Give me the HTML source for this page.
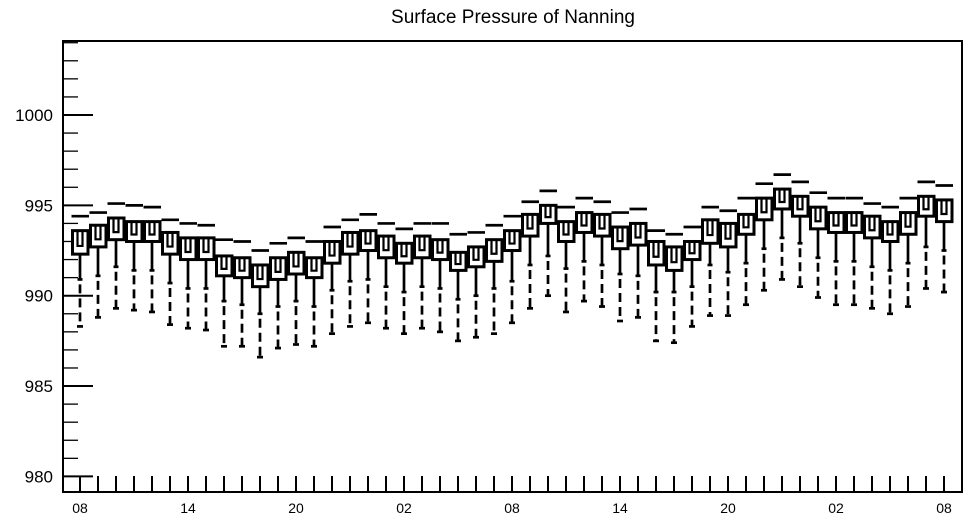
<!DOCTYPE html>
<html><head><meta charset="utf-8"><style>
html,body{margin:0;padding:0;background:#fff}
svg{display:block}
text{font-family:"Liberation Sans",sans-serif;fill:#000}
</style></head><body>
<svg id="chart" width="968" height="520" viewBox="0 0 968 520">
<text x="513" y="23" font-size="19" text-anchor="middle">Surface Pressure of Nanning</text>
<g id="axes"></g>
<g id="marks"></g>
</svg>
<script>
const hourLabels = ["08","14","20","02","08","14","20","02","08"];
const yTicks = [980,985,990,995,1000];
const maxVals = [994.4,994.6,995.1,995.0,994.9,994.2,994.0,993.9,993.1,993.0,992.5,992.9,993.2,993.0,993.8,994.2,994.5,994.0,993.7,994.0,994.0,993.4,993.5,993.9,994.4,995.2,995.8,994.9,995.4,995.2,994.6,994.8,993.6,993.4,993.8,994.9,994.7,995.4,996.2,996.7,996.3,995.7,995.4,995.4,995.1,994.9,995.4,996.3,996.1];
const q3Vals = [993.6,993.9,994.3,994.1,994.1,993.5,993.2,993.2,992.2,992.1,991.7,992.1,992.4,992.1,993.0,993.5,993.6,993.3,992.9,993.3,993.1,992.4,992.7,993.1,993.6,994.5,995.0,994.1,994.6,994.5,993.8,994.0,993.0,992.7,993.0,994.2,994.0,994.5,995.4,995.9,995.5,994.9,994.6,994.6,994.4,994.1,994.6,995.5,995.3];
const q1Vals = [992.3,992.7,993.1,993.0,993.0,992.3,992.0,992.0,991.1,991.0,990.5,990.9,991.2,991.0,991.8,992.3,992.5,992.1,991.8,992.1,992.0,991.4,991.6,991.9,992.5,993.3,994.0,993.0,993.5,993.3,992.6,992.8,991.7,991.4,992.0,992.9,992.7,993.4,994.2,994.8,994.4,993.7,993.5,993.5,993.2,993.0,993.4,994.4,994.1];
const lowVals = [990.9,991.1,991.6,991.4,991.4,990.7,990.4,990.4,989.7,989.5,989.0,989.4,989.7,989.4,990.3,990.8,990.9,990.5,990.2,990.5,990.4,989.8,990.0,990.4,990.8,991.7,992.2,991.5,991.9,991.7,991.2,991.1,990.2,990.2,990.5,991.7,991.3,991.8,992.6,993.2,992.9,992.1,991.9,991.9,991.6,991.4,991.8,992.7,992.5];
const minVals = [988.3,988.8,989.3,989.2,989.1,988.4,988.2,988.1,987.2,987.2,986.6,987.1,987.3,987.2,987.9,988.3,988.5,988.2,987.9,988.2,988.0,987.5,987.7,987.9,988.5,989.3,990.0,989.1,989.7,989.4,988.6,988.8,987.5,987.4,988.3,988.9,988.9,989.5,990.3,990.9,990.5,989.9,989.5,989.5,989.3,989.0,989.4,990.4,990.2];

const L=63,R=962,T=41,B=492;
const yScale=v=>115+(1000-v)*18.07;
const xScale=i=>80+i*18;
const NS="http://www.w3.org/2000/svg";
function mk(tag,attrs,parent){const e=document.createElementNS(NS,tag);for(const k in attrs)e.setAttribute(k,attrs[k]);parent.appendChild(e);return e;}
const axes=document.getElementById('axes');
const marks=document.getElementById('marks');

const frame=mk('rect',{x:L,y:T,width:R-L,height:B-T,fill:'none',stroke:'#000','stroke-width':2},axes);



for(let v=980;v<=1004;v++){
  const y=yScale(v);
  if(y<T)break;
  const major=yTicks.includes(v);
  const t=mk('line',{x1:L,x2:L+(major?30:15),y1:y,y2:y,stroke:'#000','stroke-width':major?2:1.3},axes);
  
  
}
yTicks.forEach(v=>{
  const t=mk('text',{x:53,y:yScale(v)+6,'font-size':17,'text-anchor':'end'},axes);
  t.textContent=String(v);
  
  
});
for(let i=0;i<maxVals.length;i++){
  const x=xScale(i);
  const t=mk('line',{x1:x,x2:x,y1:B,y2:B-16,stroke:'#000','stroke-width':2},axes);
  
  
}
hourLabels.forEach((lab,k)=>{
  const t=mk('text',{x:xScale(k*6),y:513,'font-size':14,'text-anchor':'middle'},axes);
  t.textContent=lab;
  
  
});

for(let i=0;i<maxVals.length;i++){
  const x=xScale(i);
  const g=mk('g',{},marks);
  
  
  const yt=yScale(q3Vals[i]), yb=yScale(q1Vals[i]), ym=yScale(maxVals[i]), yl=yScale(lowVals[i]), yn=yScale(minVals[i]);
  const md=mk('line',{x1:x-8.5,x2:x+9,y1:ym,y2:ym,stroke:'#000','stroke-width':2.7},g);
  
  
  const w=mk('line',{x1:x,x2:x,y1:yb,y2:yl,stroke:'#000','stroke-width':2.7},g);
  
  
  const lt=mk('line',{x1:x-2.5,x2:x+2.5,y1:yl,y2:yl,stroke:'#000','stroke-width':2.7},g);
  
  
  const d=mk('line',{x1:x,x2:x,y1:yl+5,y2:yn,stroke:'#000','stroke-width':2.7,'stroke-dasharray':'9,5'},g);
  
  
  const mt=mk('line',{x1:x-3,x2:x+3,y1:yn,y2:yn,stroke:'#000','stroke-width':2.7},g);
  
  
  const r=mk('rect',{x:x-7.5,y:yt,width:15.5,height:yb-yt,fill:'#fff',stroke:'#000','stroke-width':3},g);
  
  
  const ub=yt+(yb-yt)*0.65;
  const u=mk('path',{d:`M${x-2.5},${yt} L${x-2.5},${ub} L${x+2.5},${ub} L${x+2.5},${yt}`,fill:'none',stroke:'#000','stroke-width':2.2},g);
  
  
}
</script>
</body></html>
